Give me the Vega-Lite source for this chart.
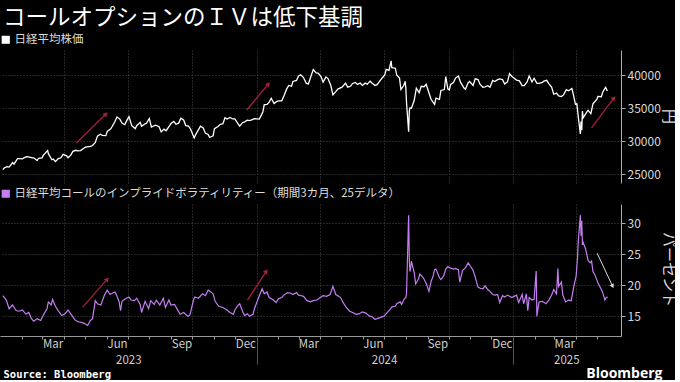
{
  "$schema": "https://vega.github.io/schema/vega-lite/v6.json",
  "background": "#000000",
  "padding": {"left": 0, "top": 6, "right": 0, "bottom": 0},
  "title": {"text": "コールオプションのＩＶは低下基調", "anchor": "start", "fontSize": 22.5, "color": "#ffffff", "font": "Noto Sans CJK JP", "fontWeight": "normal", "dx": 3, "offset": 5},
  "config": {
    "font": "Noto Sans CJK JP",
    "view": {"stroke": null},
    "axis": {"domainColor": "#aaaaaa", "tickColor": "#aaaaaa", "labelColor": "#d8d8d8", "labelFont": "Noto Sans CJK JP", "labelFontSize": 12, "titleFont": "Noto Sans CJK JP", "titleColor": "#d8d8d8", "titleFontWeight": "normal", "gridColor": "#4a4a4a", "gridDash": [1, 2], "gridWidth": 1, "labelFlush": false},
    "legend": {"orient": "top", "title": null, "padding": 0, "offset": 3, "labelFont": "Noto Sans CJK JP", "labelFontSize": 11.5, "labelColor": "#dddddd", "symbolType": "square", "symbolSize": 45, "labelOffset": 3, "labelLimit": 0}
  },
  "resolve": {"scale": {"color": "independent"}},
  "spacing": 5,
  "datasets": {
    "nikkei": [
      {"d":"2023-01-04","v":25717},{"d":"2023-01-06","v":25974},{"d":"2023-01-10","v":26175},{"d":"2023-01-13","v":26120},{"d":"2023-01-18","v":26791},{"d":"2023-01-20","v":26554},{"d":"2023-01-25","v":27395},{"d":"2023-01-27","v":27383},
      {"d":"2023-02-01","v":27346},{"d":"2023-02-03","v":27509},{"d":"2023-02-07","v":27686},{"d":"2023-02-10","v":27671},{"d":"2023-02-15","v":27501},{"d":"2023-02-17","v":27513},{"d":"2023-02-22","v":27104},{"d":"2023-02-24","v":27453},
      {"d":"2023-03-01","v":27516},{"d":"2023-03-03","v":27927},{"d":"2023-03-09","v":28623},{"d":"2023-03-10","v":28144},{"d":"2023-03-15","v":27229},{"d":"2023-03-17","v":27334},{"d":"2023-03-20","v":26945},{"d":"2023-03-24","v":27385},{"d":"2023-03-28","v":27518},{"d":"2023-03-31","v":28041},
      {"d":"2023-04-05","v":27813},{"d":"2023-04-07","v":27518},{"d":"2023-04-11","v":27923},{"d":"2023-04-14","v":28493},{"d":"2023-04-18","v":28658},{"d":"2023-04-21","v":28564},{"d":"2023-04-25","v":28620},{"d":"2023-04-28","v":28856},
      {"d":"2023-05-02","v":29123},{"d":"2023-05-09","v":29242},{"d":"2023-05-12","v":29388},{"d":"2023-05-16","v":29842},{"d":"2023-05-19","v":30808},{"d":"2023-05-23","v":31086},{"d":"2023-05-26","v":30916},{"d":"2023-05-31","v":30887},
      {"d":"2023-06-02","v":31524},{"d":"2023-06-07","v":31913},{"d":"2023-06-09","v":32265},{"d":"2023-06-13","v":33018},{"d":"2023-06-16","v":33706},{"d":"2023-06-20","v":33389},{"d":"2023-06-23","v":32781},{"d":"2023-06-27","v":32538},{"d":"2023-06-30","v":33189},
      {"d":"2023-07-03","v":33753},{"d":"2023-07-07","v":32388},{"d":"2023-07-12","v":31943},{"d":"2023-07-14","v":32391},{"d":"2023-07-19","v":32896},{"d":"2023-07-21","v":32304},{"d":"2023-07-26","v":32668},{"d":"2023-07-28","v":32759},
      {"d":"2023-08-01","v":33476},{"d":"2023-08-04","v":32192},{"d":"2023-08-08","v":32377},{"d":"2023-08-10","v":32473},{"d":"2023-08-15","v":32238},{"d":"2023-08-18","v":31450},{"d":"2023-08-22","v":31856},{"d":"2023-08-25","v":31624},{"d":"2023-08-29","v":32227},
      {"d":"2023-09-01","v":32710},{"d":"2023-09-05","v":33036},{"d":"2023-09-08","v":32606},{"d":"2023-09-12","v":32776},{"d":"2023-09-15","v":33533},{"d":"2023-09-19","v":33243},{"d":"2023-09-22","v":32402},{"d":"2023-09-26","v":32315},{"d":"2023-09-29","v":31857},
      {"d":"2023-10-04","v":30526},{"d":"2023-10-06","v":30994},{"d":"2023-10-10","v":31746},{"d":"2023-10-13","v":32315},{"d":"2023-10-17","v":32040},{"d":"2023-10-20","v":31259},{"d":"2023-10-24","v":31062},{"d":"2023-10-26","v":30601},{"d":"2023-10-31","v":30858},
      {"d":"2023-11-02","v":31950},{"d":"2023-11-07","v":32272},{"d":"2023-11-10","v":32568},{"d":"2023-11-14","v":32695},{"d":"2023-11-17","v":33585},{"d":"2023-11-20","v":33388},{"d":"2023-11-24","v":33625},{"d":"2023-11-28","v":33408},
      {"d":"2023-12-01","v":33431},{"d":"2023-12-05","v":32775},{"d":"2023-12-08","v":32307},{"d":"2023-12-12","v":32843},{"d":"2023-12-15","v":32970},{"d":"2023-12-19","v":33219},{"d":"2023-12-22","v":33169},{"d":"2023-12-26","v":33305},{"d":"2023-12-29","v":33464},
      {"d":"2024-01-05","v":33377},{"d":"2024-01-10","v":34441},{"d":"2024-01-12","v":35577},{"d":"2024-01-16","v":35619},{"d":"2024-01-19","v":35963},{"d":"2024-01-22","v":36546},{"d":"2024-01-26","v":35751},{"d":"2024-01-30","v":36066},
      {"d":"2024-02-02","v":36158},{"d":"2024-02-06","v":36160},{"d":"2024-02-09","v":36897},{"d":"2024-02-13","v":37963},{"d":"2024-02-16","v":38487},{"d":"2024-02-20","v":38364},{"d":"2024-02-22","v":39098},{"d":"2024-02-27","v":39239},
      {"d":"2024-03-01","v":39910},{"d":"2024-03-04","v":40109},{"d":"2024-03-08","v":39688},{"d":"2024-03-12","v":38797},{"d":"2024-03-15","v":38707},{"d":"2024-03-19","v":40003},{"d":"2024-03-22","v":40888},{"d":"2024-03-26","v":40398},{"d":"2024-03-29","v":40369},
      {"d":"2024-04-02","v":39838},{"d":"2024-04-05","v":38992},{"d":"2024-04-09","v":39773},{"d":"2024-04-12","v":39523},{"d":"2024-04-16","v":38471},{"d":"2024-04-19","v":37068},{"d":"2024-04-23","v":37552},{"d":"2024-04-26","v":37934},
      {"d":"2024-05-02","v":38236},{"d":"2024-05-07","v":38835},{"d":"2024-05-10","v":38229},{"d":"2024-05-14","v":38356},{"d":"2024-05-17","v":38787},{"d":"2024-05-21","v":38946},{"d":"2024-05-24","v":38646},{"d":"2024-05-28","v":38855},{"d":"2024-05-31","v":38487},
      {"d":"2024-06-04","v":38837},{"d":"2024-06-07","v":38683},{"d":"2024-06-11","v":39134},{"d":"2024-06-14","v":38814},{"d":"2024-06-18","v":38482},{"d":"2024-06-21","v":38596},{"d":"2024-06-25","v":39173},{"d":"2024-06-28","v":39583},
      {"d":"2024-07-02","v":40074},{"d":"2024-07-04","v":40913},{"d":"2024-07-08","v":40780},{"d":"2024-07-11","v":42224},{"d":"2024-07-12","v":41190},{"d":"2024-07-17","v":41097},{"d":"2024-07-19","v":40063},{"d":"2024-07-23","v":39594},{"d":"2024-07-25","v":37869},{"d":"2024-07-29","v":38468},{"d":"2024-07-31","v":39101},
      {"d":"2024-08-01","v":38126},{"d":"2024-08-02","v":35909},{"d":"2024-08-05","v":31458},{"d":"2024-08-06","v":34675},{"d":"2024-08-07","v":35089},{"d":"2024-08-09","v":35025},{"d":"2024-08-13","v":36232},{"d":"2024-08-16","v":38062},{"d":"2024-08-20","v":37388},{"d":"2024-08-23","v":38364},{"d":"2024-08-27","v":38288},{"d":"2024-08-30","v":38647},
      {"d":"2024-09-04","v":37047},{"d":"2024-09-06","v":36391},{"d":"2024-09-11","v":35619},{"d":"2024-09-13","v":36581},{"d":"2024-09-18","v":36380},{"d":"2024-09-20","v":37723},{"d":"2024-09-25","v":37870},{"d":"2024-09-27","v":39829},{"d":"2024-09-30","v":37919},
      {"d":"2024-10-02","v":37808},{"d":"2024-10-04","v":38635},{"d":"2024-10-08","v":38937},{"d":"2024-10-11","v":39605},{"d":"2024-10-15","v":39910},{"d":"2024-10-18","v":38981},{"d":"2024-10-23","v":38104},{"d":"2024-10-25","v":37913},{"d":"2024-10-29","v":38903},{"d":"2024-10-31","v":39081},
      {"d":"2024-11-05","v":38474},{"d":"2024-11-08","v":39500},{"d":"2024-11-12","v":39376},{"d":"2024-11-15","v":38642},{"d":"2024-11-19","v":38220},{"d":"2024-11-22","v":38283},{"d":"2024-11-26","v":38442},{"d":"2024-11-29","v":38208},
      {"d":"2024-12-03","v":39248},{"d":"2024-12-06","v":39091},{"d":"2024-12-10","v":39367},{"d":"2024-12-13","v":39470},{"d":"2024-12-17","v":39364},{"d":"2024-12-20","v":38701},{"d":"2024-12-24","v":39036},{"d":"2024-12-27","v":40281},{"d":"2024-12-30","v":39894},
      {"d":"2025-01-06","v":39307},{"d":"2025-01-10","v":39190},{"d":"2025-01-14","v":38474},{"d":"2025-01-17","v":38451},{"d":"2025-01-21","v":39027},{"d":"2025-01-24","v":39931},{"d":"2025-01-28","v":39016},{"d":"2025-01-31","v":39572},
      {"d":"2025-02-04","v":38798},{"d":"2025-02-07","v":38787},{"d":"2025-02-12","v":38963},{"d":"2025-02-14","v":39149},{"d":"2025-02-18","v":39270},{"d":"2025-02-21","v":38776},{"d":"2025-02-25","v":38238},{"d":"2025-02-28","v":37155},
      {"d":"2025-03-04","v":37331},{"d":"2025-03-07","v":36887},{"d":"2025-03-11","v":36793},{"d":"2025-03-14","v":37053},{"d":"2025-03-18","v":37845},{"d":"2025-03-21","v":37677},{"d":"2025-03-26","v":38027},{"d":"2025-03-28","v":37120},{"d":"2025-03-31","v":35617},
      {"d":"2025-04-02","v":35725},{"d":"2025-04-04","v":33780},{"d":"2025-04-07","v":31136},{"d":"2025-04-08","v":33012},{"d":"2025-04-09","v":31714},{"d":"2025-04-10","v":34609},{"d":"2025-04-11","v":33586},{"d":"2025-04-15","v":34267},{"d":"2025-04-18","v":34730},{"d":"2025-04-22","v":34220},{"d":"2025-04-25","v":35705},
      {"d":"2025-05-01","v":36452},{"d":"2025-05-02","v":36831},{"d":"2025-05-07","v":36780},{"d":"2025-05-09","v":37503},{"d":"2025-05-13","v":38183},{"d":"2025-05-15","v":37755},{"d":"2025-05-16","v":37753}
    ],
    "iv": [
      {"d":"2023-01-04","v":18.3},{"d":"2023-01-09","v":17.6},{"d":"2023-01-13","v":16.2},{"d":"2023-01-18","v":16.8},{"d":"2023-01-23","v":15.9},{"d":"2023-01-27","v":15.8},
      {"d":"2023-02-01","v":16.0},{"d":"2023-02-06","v":15.3},{"d":"2023-02-10","v":15.6},{"d":"2023-02-14","v":14.6},{"d":"2023-02-17","v":14.2},{"d":"2023-02-22","v":14.6},{"d":"2023-02-27","v":14.3},
      {"d":"2023-03-03","v":15.2},{"d":"2023-03-08","v":16.2},{"d":"2023-03-10","v":17.3},{"d":"2023-03-14","v":16.8},{"d":"2023-03-16","v":17.7},{"d":"2023-03-20","v":16.6},{"d":"2023-03-24","v":15.9},{"d":"2023-03-29","v":15.1},
      {"d":"2023-04-03","v":15.4},{"d":"2023-04-07","v":16.0},{"d":"2023-04-12","v":15.2},{"d":"2023-04-17","v":14.4},{"d":"2023-04-21","v":14.1},{"d":"2023-04-26","v":14.0},
      {"d":"2023-05-01","v":13.8},{"d":"2023-05-05","v":13.5},{"d":"2023-05-09","v":14.3},{"d":"2023-05-12","v":14.6},{"d":"2023-05-16","v":17.5},{"d":"2023-05-19","v":17.0},{"d":"2023-05-24","v":16.8},{"d":"2023-05-29","v":18.4},
      {"d":"2023-06-02","v":19.2},{"d":"2023-06-06","v":18.5},{"d":"2023-06-09","v":18.7},{"d":"2023-06-13","v":18.9},{"d":"2023-06-16","v":18.2},{"d":"2023-06-19","v":17.3},{"d":"2023-06-21","v":15.9},{"d":"2023-06-23","v":17.4},{"d":"2023-06-28","v":17.8},
      {"d":"2023-07-03","v":18.1},{"d":"2023-07-06","v":17.6},{"d":"2023-07-11","v":17.5},{"d":"2023-07-14","v":17.9},{"d":"2023-07-19","v":16.9},{"d":"2023-07-21","v":15.6},{"d":"2023-07-26","v":17.4},{"d":"2023-07-31","v":16.2},
      {"d":"2023-08-03","v":17.5},{"d":"2023-08-08","v":16.9},{"d":"2023-08-11","v":17.6},{"d":"2023-08-16","v":16.8},{"d":"2023-08-21","v":17.9},{"d":"2023-08-24","v":16.4},{"d":"2023-08-29","v":17.6},
      {"d":"2023-09-01","v":16.8},{"d":"2023-09-06","v":16.9},{"d":"2023-09-11","v":15.9},{"d":"2023-09-14","v":15.3},{"d":"2023-09-19","v":15.6},{"d":"2023-09-25","v":15.0},{"d":"2023-09-28","v":15.2},
      {"d":"2023-10-03","v":17.6},{"d":"2023-10-05","v":18.1},{"d":"2023-10-10","v":17.9},{"d":"2023-10-16","v":18.6},{"d":"2023-10-20","v":18.3},{"d":"2023-10-24","v":19.2},{"d":"2023-10-27","v":19.0},{"d":"2023-10-31","v":18.6},
      {"d":"2023-11-03","v":17.4},{"d":"2023-11-08","v":16.6},{"d":"2023-11-14","v":16.4},{"d":"2023-11-20","v":16.0},{"d":"2023-11-24","v":15.6},{"d":"2023-11-29","v":15.3},
      {"d":"2023-12-01","v":16.0},{"d":"2023-12-06","v":16.8},{"d":"2023-12-08","v":17.0},{"d":"2023-12-12","v":15.8},{"d":"2023-12-15","v":15.1},{"d":"2023-12-19","v":15.4},{"d":"2023-12-22","v":15.0},{"d":"2023-12-27","v":15.3},{"d":"2023-12-29","v":16.2},
      {"d":"2024-01-04","v":18.0},{"d":"2024-01-09","v":19.4},{"d":"2024-01-12","v":18.6},{"d":"2024-01-16","v":18.9},{"d":"2024-01-19","v":18.0},{"d":"2024-01-24","v":17.7},{"d":"2024-01-29","v":17.2},
      {"d":"2024-02-01","v":17.8},{"d":"2024-02-06","v":18.0},{"d":"2024-02-09","v":18.4},{"d":"2024-02-14","v":18.8},{"d":"2024-02-19","v":18.7},{"d":"2024-02-22","v":18.5},{"d":"2024-02-27","v":18.8},
      {"d":"2024-03-01","v":18.4},{"d":"2024-03-05","v":18.3},{"d":"2024-03-08","v":18.2},{"d":"2024-03-13","v":17.5},{"d":"2024-03-18","v":17.3},{"d":"2024-03-22","v":17.5},{"d":"2024-03-27","v":17.6},
      {"d":"2024-04-01","v":18.0},{"d":"2024-04-05","v":18.3},{"d":"2024-04-10","v":18.2},{"d":"2024-04-15","v":18.5},{"d":"2024-04-19","v":19.8},{"d":"2024-04-23","v":18.5},{"d":"2024-04-26","v":18.3},{"d":"2024-04-30","v":18.0},
      {"d":"2024-05-03","v":17.3},{"d":"2024-05-08","v":16.4},{"d":"2024-05-13","v":15.8},{"d":"2024-05-17","v":15.6},{"d":"2024-05-22","v":15.3},{"d":"2024-05-27","v":15.4},{"d":"2024-05-31","v":15.7},
      {"d":"2024-06-05","v":15.5},{"d":"2024-06-10","v":15.0},{"d":"2024-06-14","v":14.9},{"d":"2024-06-18","v":14.5},{"d":"2024-06-21","v":14.6},{"d":"2024-06-26","v":14.8},
      {"d":"2024-07-01","v":15.0},{"d":"2024-07-04","v":15.4},{"d":"2024-07-09","v":16.0},{"d":"2024-07-12","v":16.5},{"d":"2024-07-17","v":16.6},{"d":"2024-07-19","v":17.0},{"d":"2024-07-24","v":17.3},{"d":"2024-07-26","v":16.9},{"d":"2024-07-30","v":17.8},
      {"d":"2024-08-01","v":18.0},{"d":"2024-08-02","v":18.6},{"d":"2024-08-05","v":31.3},{"d":"2024-08-06","v":24.0},{"d":"2024-08-07","v":22.2},{"d":"2024-08-08","v":22.8},{"d":"2024-08-09","v":23.9},{"d":"2024-08-13","v":22.0},{"d":"2024-08-15","v":20.2},{"d":"2024-08-19","v":21.0},{"d":"2024-08-21","v":21.8},{"d":"2024-08-26","v":21.2},{"d":"2024-08-30","v":20.3},
      {"d":"2024-09-03","v":19.0},{"d":"2024-09-06","v":20.6},{"d":"2024-09-09","v":21.5},{"d":"2024-09-11","v":22.5},{"d":"2024-09-13","v":22.6},{"d":"2024-09-18","v":21.2},{"d":"2024-09-20","v":20.9},{"d":"2024-09-24","v":21.5},{"d":"2024-09-27","v":22.6},{"d":"2024-09-30","v":23.0},
      {"d":"2024-10-03","v":22.8},{"d":"2024-10-08","v":22.6},{"d":"2024-10-11","v":22.7},{"d":"2024-10-15","v":22.5},{"d":"2024-10-17","v":20.5},{"d":"2024-10-21","v":22.4},{"d":"2024-10-25","v":22.8},{"d":"2024-10-29","v":23.6},
      {"d":"2024-11-01","v":23.1},{"d":"2024-11-05","v":22.4},{"d":"2024-11-08","v":21.3},{"d":"2024-11-12","v":19.7},{"d":"2024-11-15","v":19.5},{"d":"2024-11-19","v":19.4},{"d":"2024-11-22","v":19.9},{"d":"2024-11-26","v":19.3},{"d":"2024-11-29","v":19.0},
      {"d":"2024-12-03","v":18.5},{"d":"2024-12-06","v":18.4},{"d":"2024-12-10","v":18.5},{"d":"2024-12-13","v":17.2},{"d":"2024-12-17","v":18.3},{"d":"2024-12-20","v":18.1},{"d":"2024-12-24","v":18.4},{"d":"2024-12-27","v":18.2},{"d":"2024-12-30","v":18.0},
      {"d":"2025-01-06","v":18.4},{"d":"2025-01-09","v":17.2},{"d":"2025-01-14","v":18.5},{"d":"2025-01-16","v":17.0},{"d":"2025-01-20","v":18.6},{"d":"2025-01-22","v":15.9},{"d":"2025-01-24","v":18.0},{"d":"2025-01-28","v":17.6},{"d":"2025-01-31","v":17.7},
      {"d":"2025-02-03","v":22.3},{"d":"2025-02-04","v":15.0},{"d":"2025-02-07","v":17.3},{"d":"2025-02-12","v":17.4},{"d":"2025-02-17","v":17.0},{"d":"2025-02-21","v":17.6},{"d":"2025-02-25","v":18.4},{"d":"2025-02-28","v":19.3},
      {"d":"2025-03-04","v":18.6},{"d":"2025-03-06","v":22.7},{"d":"2025-03-07","v":19.8},{"d":"2025-03-11","v":20.5},{"d":"2025-03-13","v":18.4},{"d":"2025-03-17","v":17.3},{"d":"2025-03-21","v":17.6},{"d":"2025-03-25","v":17.5},{"d":"2025-03-28","v":19.4},
      {"d":"2025-04-01","v":21.5},{"d":"2025-04-03","v":24.5},{"d":"2025-04-04","v":27.0},{"d":"2025-04-07","v":31.3},{"d":"2025-04-08","v":28.0},{"d":"2025-04-09","v":30.4},{"d":"2025-04-10","v":26.5},{"d":"2025-04-11","v":26.9},{"d":"2025-04-14","v":26.0},{"d":"2025-04-16","v":25.1},{"d":"2025-04-18","v":24.0},{"d":"2025-04-21","v":23.6},{"d":"2025-04-23","v":23.9},{"d":"2025-04-25","v":22.2},{"d":"2025-04-28","v":21.6},
      {"d":"2025-05-01","v":20.7},{"d":"2025-05-02","v":20.4},{"d":"2025-05-07","v":19.3},{"d":"2025-05-09","v":18.8},{"d":"2025-05-12","v":17.6},{"d":"2025-05-14","v":18.0},{"d":"2025-05-16","v":18.1}
    ],
    "arrowsTop": [
      {"d0":"2023-04-19","d1":"2023-05-31","v0":29770,"v1":34170},
      {"d0":"2023-12-18","d1":"2024-01-18","v0":34770,"v1":38710},
      {"d0":"2025-04-23","d1":"2025-05-25","v0":32050,"v1":36590}
    ],
    "arrowsBottom": [
      {"d0":"2023-04-28","d1":"2023-06-02","v0":16.45,"v1":20.97},
      {"d0":"2023-12-19","d1":"2024-01-15","v0":17.58,"v1":22.26}
    ],
    "arrowWhite": [
      {"d0":"2025-05-01","d1":"2025-05-23","v0":25.16,"v1":19.84}
    ]
  },
  "vconcat": [
    {
      "width": 621,
      "height": 133,
      "resolve": {"axis": {"x": "independent", "y": "independent"}},
      "layer": [
        {
          "data": {"name": "nikkei"},
          "mark": {"type": "line", "strokeWidth": 1.3},
          "encoding": {
            "x": {"field": "d", "type": "temporal", "scale": {"domain": [{"year": 2022, "month": 12, "date": 31}, {"year": 2025, "month": 6, "date": 4}]},
                  "axis": {"orient": "bottom", "title": null, "values": [{"year":2023,"month":4,"date":1},{"year":2023,"month":7,"date":1},{"year":2023,"month":10,"date":1},{"year":2024,"month":1,"date":1},{"year":2024,"month":4,"date":1},{"year":2024,"month":7,"date":1},{"year":2024,"month":10,"date":1},{"year":2025,"month":1,"date":1},{"year":2025,"month":4,"date":1}], "grid": true, "labels": false, "ticks": false, "domain": false}},
            "y": {"field": "v", "type": "quantitative", "scale": {"domain": [23700, 43860], "nice": false, "zero": false},
                  "axis": {"orient": "right", "values": [25000, 30000, 35000, 40000], "format": "d", "grid": true, "tickSize": 4, "labelPadding": 2, "title": "円", "titleAngle": 90, "titleFontSize": 15, "titleX": 47, "titleY": 66, "titleAlign": "center", "titleBaseline": "middle"}},
            "color": {"datum": "日経平均株価", "scale": {"range": ["#ffffff"]},
                      "legend": {"encode": {"symbols": {"update": {"fill": {"value": "#ffffff"}, "stroke": {"value": "#ffffff"}, "shape": {"value": "square"}}}}}}
          }
        },
        {
          "data": {"name": "arrowsTop"},
          "mark": {"type": "rule", "color": "#a3203a", "strokeWidth": 1.3},
          "encoding": {
            "x": {"field": "d0", "type": "temporal", "axis": null},
            "x2": {"field": "d1"},
            "y": {"field": "v0", "type": "quantitative", "axis": null},
            "y2": {"field": "v1"}
          }
        },
        {
          "data": {"name": "arrowsTop"},
          "mark": {"type": "point", "shape": "triangle-up", "filled": true, "color": "#a3203a", "size": 28, "angle": 40, "opacity": 1},
          "encoding": {
            "x": {"field": "d1", "type": "temporal", "axis": null},
            "y": {"field": "v1", "type": "quantitative", "axis": null}
          }
        },
        {
          "mark": {"type": "rule", "color": "#5a5a5a", "strokeWidth": 2.5, "clip": false},
          "encoding": {
            "x": {"datum": {"year": 2022, "month": 12, "date": 31}, "type": "temporal", "axis": null},
            "x2": {"datum": {"year": 2025, "month": 8, "date": 30}},
            "y": {"datum": 23700, "type": "quantitative", "axis": null}
          }
        }
      ]
    },
    {
      "width": 621,
      "height": 132,
      "resolve": {"axis": {"x": "independent", "y": "independent"}},
      "layer": [
        {
          "data": {"name": "iv"},
          "mark": {"type": "line", "strokeWidth": 1.2},
          "encoding": {
            "x": {"field": "d", "type": "temporal", "scale": {"domain": [{"year": 2022, "month": 12, "date": 31}, {"year": 2025, "month": 6, "date": 4}]},
                  "axis": {"orient": "bottom", "title": null, "values": [{"year":2023,"month":2,"date":1},{"year":2023,"month":3,"date":1},{"year":2023,"month":4,"date":1},{"year":2023,"month":5,"date":1},{"year":2023,"month":6,"date":1},{"year":2023,"month":7,"date":1},{"year":2023,"month":8,"date":1},{"year":2023,"month":9,"date":1},{"year":2023,"month":10,"date":1},{"year":2023,"month":11,"date":1},{"year":2023,"month":12,"date":1},{"year":2024,"month":1,"date":1},{"year":2024,"month":2,"date":1},{"year":2024,"month":3,"date":1},{"year":2024,"month":4,"date":1},{"year":2024,"month":5,"date":1},{"year":2024,"month":6,"date":1},{"year":2024,"month":7,"date":1},{"year":2024,"month":8,"date":1},{"year":2024,"month":9,"date":1},{"year":2024,"month":10,"date":1},{"year":2024,"month":11,"date":1},{"year":2024,"month":12,"date":1},{"year":2025,"month":1,"date":1},{"year":2025,"month":2,"date":1},{"year":2025,"month":3,"date":1},{"year":2025,"month":4,"date":1},{"year":2025,"month":5,"date":1}],
                           "grid": false, "labels": false, "ticks": true, "tickSize": 3, "domain": true, "domainColor": "#999999", "tickColor": "#999999"}},
            "y": {"field": "v", "type": "quantitative", "scale": {"domain": [11.8, 33.1], "nice": false, "zero": false},
                  "axis": {"orient": "right", "values": [15, 20, 25, 30], "grid": true, "tickSize": 4, "labelPadding": 2, "title": "パーセント", "titleAngle": 90, "titleFontSize": 15, "titleX": 47, "titleY": 65, "titleAlign": "center", "titleBaseline": "middle"}},
            "color": {"datum": "日経平均コールのインプライドボラティリティー（期間3カ月、25デルタ）", "scale": {"range": ["#c57ef2"]},
                      "legend": {"encode": {"symbols": {"update": {"fill": {"value": "#c57ef2"}, "stroke": {"value": "#c57ef2"}, "shape": {"value": "square"}}}}}}
          }
        },
        {
          "data": {"name": "arrowsBottom"},
          "mark": {"type": "rule", "color": "#a3203a", "strokeWidth": 1.3},
          "encoding": {
            "x": {"field": "d0", "type": "temporal",
                  "axis": {"orient": "bottom", "title": null, "values": [{"year":2023,"month":4,"date":1},{"year":2023,"month":7,"date":1},{"year":2023,"month":10,"date":1},{"year":2024,"month":1,"date":1},{"year":2024,"month":4,"date":1},{"year":2024,"month":7,"date":1},{"year":2024,"month":10,"date":1},{"year":2025,"month":1,"date":1},{"year":2025,"month":4,"date":1}], "grid": true, "labels": false, "ticks": false, "domain": false}},
            "x2": {"field": "d1"},
            "y": {"field": "v0", "type": "quantitative", "axis": null},
            "y2": {"field": "v1"}
          }
        },
        {
          "data": {"name": "arrowsBottom"},
          "mark": {"type": "point", "shape": "triangle-up", "filled": true, "color": "#a3203a", "size": 28, "angle": 40, "opacity": 1},
          "encoding": {
            "x": {"field": "d1", "type": "temporal",
                  "axis": {"orient": "bottom", "title": null, "values": [{"year":2023,"month":3,"date":16},{"year":2023,"month":6,"date":16},{"year":2023,"month":9,"date":16},{"year":2023,"month":12,"date":16},{"year":2024,"month":3,"date":15},{"year":2024,"month":6,"date":15},{"year":2024,"month":9,"date":15},{"year":2024,"month":12,"date":16},{"year":2025,"month":3,"date":15}], "format": "%b", "grid": false, "ticks": false, "domain": false, "labelPadding": 2, "labelFontSize": 11.5, "labelColor": "#cfcfcf"}},
            "y": {"field": "v1", "type": "quantitative", "axis": null}
          }
        },
        {
          "data": {"name": "arrowWhite"},
          "mark": {"type": "rule", "color": "#dddddd", "strokeWidth": 1},
          "encoding": {
            "x": {"field": "d0", "type": "temporal",
                  "axis": {"orient": "bottom", "values": [{"year":2023,"month":7,"date":2},{"year":2024,"month":7,"date":1},{"year":2025,"month":3,"date":18}], "format": "%Y", "grid": false, "ticks": false, "domain": false, "labelPadding": 18, "labelFontSize": 11.5, "labelColor": "#cfcfcf",
                           "title": "Source: Bloomberg", "titleFont": "DejaVu Sans Mono", "titleFontWeight": "bold", "titleFontSize": 10.5, "titleColor": "#ffffff", "titleX": 3, "titleY": 38, "titleAlign": "left", "titleBaseline": "middle", "titleAnchor": "start"}},
            "x2": {"field": "d1"},
            "y": {"field": "v0", "type": "quantitative", "axis": null},
            "y2": {"field": "v1"}
          }
        },
        {
          "data": {"name": "arrowWhite"},
          "mark": {"type": "point", "shape": "triangle-up", "filled": true, "color": "#dddddd", "size": 22, "angle": 154, "opacity": 1},
          "encoding": {
            "x": {"field": "d1", "type": "temporal",
                  "axis": {"orient": "bottom", "values": [{"year":2024,"month":1,"date":1},{"year":2025,"month":1,"date":1}], "grid": false, "labels": false, "ticks": true, "tickSize": 28, "tickColor": "#555555", "domain": false,
                           "title": "Bloomberg", "titleFont": "Open Sans", "titleFontWeight": "bold", "titleFontSize": 14, "titleColor": "#ffffff", "titleX": 662, "titleY": 37, "titleAlign": "right", "titleBaseline": "middle", "titleAnchor": "end"}},
            "y": {"field": "v1", "type": "quantitative", "axis": null}
          }
        }
      ]
    }
  ]
}
